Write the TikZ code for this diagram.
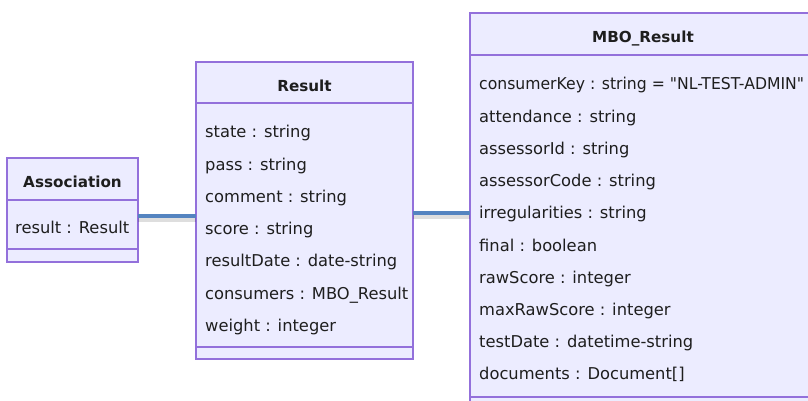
\documentclass[tikz,border=0pt]{standalone}
\usepackage{fontspec}
\setmainfont{DejaVu Sans}[Ligatures=TeXOff]
\definecolor{boxfill}{HTML}{ECECFF}
\definecolor{boxline}{HTML}{9370DB}
\definecolor{conn}{HTML}{5484C0}
\definecolor{txt}{HTML}{1E1E1E}
\tikzset{
  classbox/.style={draw=boxline, fill=boxfill, line width=1.1pt},
  sepline/.style={draw=boxline, line width=1.1pt},
  attr/.style={anchor=base west, inner sep=0pt, font=\fontsize{16.3}{18}\selectfont, text=txt},
  ctitle/.style={anchor=base, inner sep=0pt, font=\fontsize{15.2}{18}\selectfont\bfseries, text=txt},
  link/.style={draw=conn, line width=4.5pt},
  linkshadow/.style={draw=black, line width=5pt, opacity=0.13}
}
\begin{document}
\begin{tikzpicture}[x=1pt,y=-1pt]
\useasboundingbox (0,0) rectangle (808,401);
\clip (0,0) rectangle (808,401);
% Association
\draw[classbox] (7,158) rectangle (138,262);
\draw[sepline] (7,200) -- (138,200);
\draw[sepline] (7,249) -- (138,249);
\node[ctitle] (assoct) at (72.5,187) {Association};
\node[attr] (assoc1) at (15,233) {result : Result};
\coordinate (assocR) at (138,216);
% Result
\draw[classbox] (196,62) rectangle (413,359);
\draw[sepline] (196,103) -- (413,103);
\draw[sepline] (196,347) -- (413,347);
\node[ctitle] (rest) at (304.5,92) {Result};
\foreach \t [count=\i from 0] in {state : string, pass : string, comment : string, score : string, resultDate : date-string, consumers : MBO\_Result, weight : integer}
  \node[attr] (res\i) at (205,138+32.2*\i) {\t};
\coordinate (resL) at (196,216);
\coordinate (resR) at (413,213);
% MBO_Result
\draw[classbox] (470,13) rectangle (816,420);
\draw[sepline] (470,55) -- (816,55);
\draw[sepline] (470,397) -- (816,397);
\node[ctitle] (mbot) at (643,43) {MBO\_Result};
\node[attr] (mbo0) at (479,90) {\scalebox{0.96}[1]{consumerKey : string = "NL-TEST-ADMIN"}};
\foreach \t [count=\i from 1] in {attendance : string, assessorId : string, assessorCode : string, irregularities : string, final : boolean, rawScore : integer, maxRawScore : integer, testDate : datetime-string, documents : Document[]}
  \node[attr] (mbo\i) at (479,90+32.2*\i) {\t};
\coordinate (mboL) at (470,213);
% connectors
\draw[linkshadow] ([yshift=-3.5pt]assocR) -- ([yshift=-3.5pt]resL);
\draw[linkshadow] ([yshift=-3.5pt]resR) -- ([yshift=-3.5pt]mboL);
\draw[link] (assocR) -- (resL);
\draw[link] (resR) -- (mboL);
\end{tikzpicture}
\end{document}
